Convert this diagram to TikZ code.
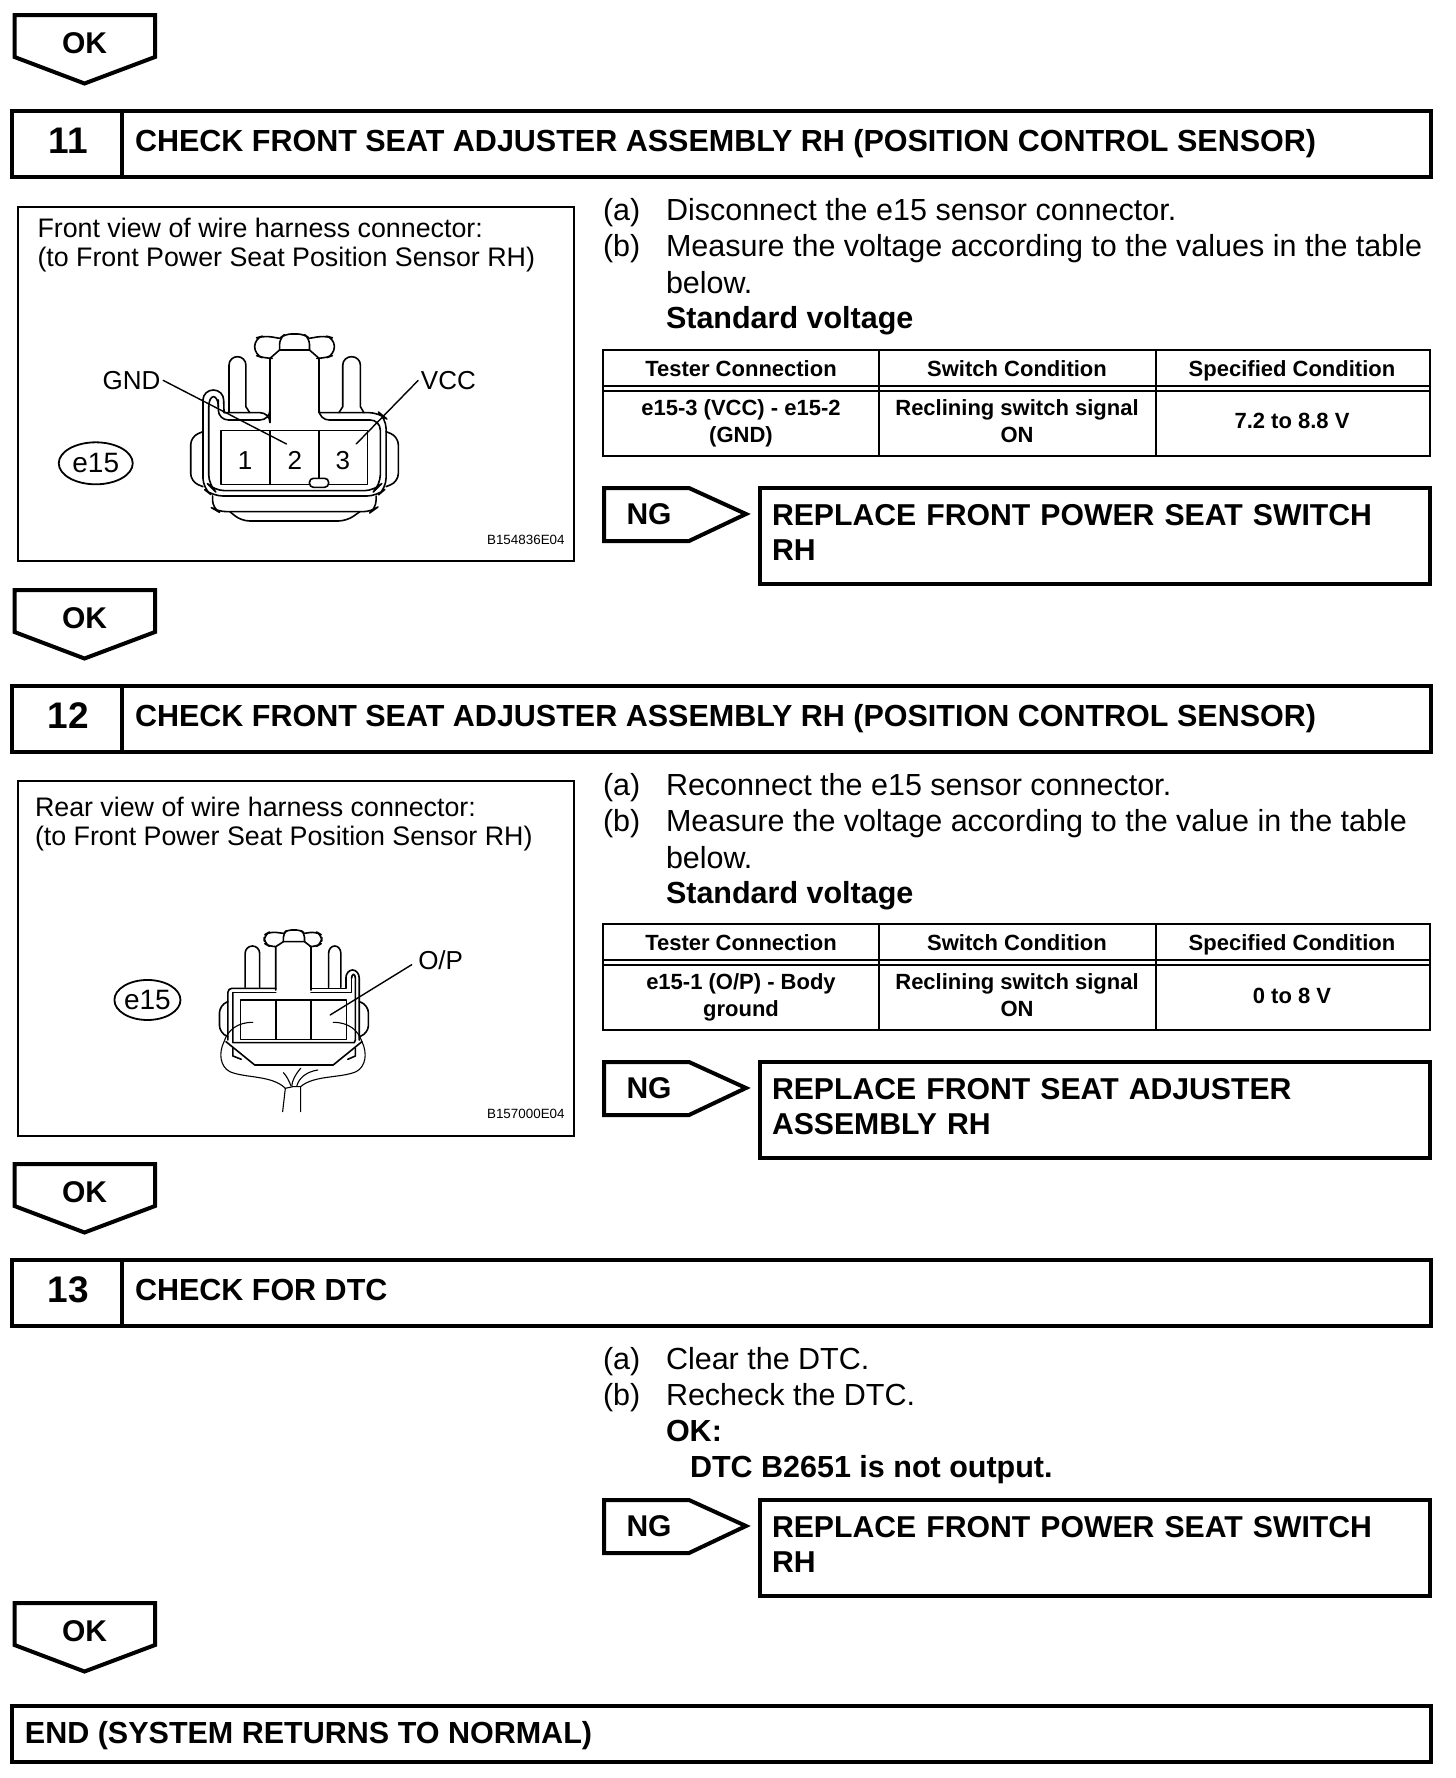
\documentclass[tikz,border=0pt]{standalone}
\usepackage{fontspec}
\setmainfont{Liberation Sans}
\usetikzlibrary{shapes.geometric}
\newcommand{\pxfont}[1]{\fontsize{#1}{#1}\selectfont}
\tikzset{
  x=0.5pt,y=-0.5pt,
  thick box/.style={draw=black,line width=2pt,line join=miter},
  thin box/.style={draw=black,line width=1pt},
  part/.style={draw=black,line width=0.8pt,line join=round,line cap=round},
  fine/.style={draw=black,line width=0.55pt,line join=round,line cap=round},
  txt/.style={anchor=base west,inner sep=0pt,outer sep=0pt,align=left},
  body/.style={txt,font=\pxfont{15.25pt}},
  bodyb/.style={txt,font=\pxfont{15.25pt}\bfseries},
  head/.style={txt,font=\pxfont{15.25pt}\bfseries},
  result/.style={txt,font=\pxfont{15.1pt}\bfseries},
  num/.style={anchor=base,inner sep=0pt,font=\pxfont{18.5pt}\bfseries},
  flag/.style={anchor=base,inner sep=0pt,font=\pxfont{15pt}\bfseries},
  cell/.style={anchor=base,inner sep=0pt,font=\pxfont{11pt}\bfseries},
  fig/.style={txt,font=\pxfont{13.4pt}},
  code/.style={anchor=base east,inner sep=0pt,font=\pxfont{6.7pt}},
  pin/.style={anchor=base,inner sep=0pt,font=\pxfont{13pt}},
  oval/.style={draw=black,line width=0.9pt,ellipse,inner sep=0pt,font=\pxfont{14pt}},
}
% OK flag: #1 name, #2 y offset
\newcommand{\okflag}[2]{%
  \draw[thick box] (14.5,#2+15) -- (155,#2+15) -- (155,#2+57) -- (84.5,#2+83.5) -- (14.5,#2+57) -- cycle;
  \node[flag] (#1) at (84.5,#2+53) {OK};}
% header: #1 name, #2 y offset, #3 number, #4 text
\newcommand{\headbar}[4]{%
  \draw[thick box] (12,#2+110.5) rectangle (1431,#2+176.5);
  \draw[thick box] (122,#2+110.5) -- (122,#2+176.5);
  \node[num] (#1n) at (68.5,#2+153) {#3};
  \node[head] (#1t) at (135,#2+151) {#4};}
% NG flag + result: #1 name, #2 y offset, #3 text
\newcommand{\ngflag}[3]{%
  \draw[thick box] (604,#2+488) -- (689,#2+488) -- (746,#2+514) -- (689,#2+541) -- (604,#2+541) -- cycle;
  \node[flag] (#1f) at (649,#2+524) {NG};
  \draw[thick box] (760,#2+488) rectangle (1430,#2+583.5);
  \node[result,text width=650pt/2] (#1r) at (772,#2+525) {#3};}
% table: #1 y offset, #2 bottom
\newcommand{\tablegrid}[2]{%
  \draw[thin box] (603,#1+349.5) rectangle (1430,#2);
  \draw[thin box] (603,#1+386) -- (1430,#1+386);
  \draw[thin box] (603,#1+391) -- (1430,#1+391);
  \draw[thin box] (879,#1+349.5) -- (879,#2);
  \draw[thin box] (1156,#1+349.5) -- (1156,#2);
  \node[cell] at (741,#1+376.5) {Tester Connection};
  \node[cell] at (1017,#1+376.5) {Switch Condition};
  \node[cell] at (1292,#1+376.5) {Specified Condition};}
\begin{document}
\begin{tikzpicture}
\useasboundingbox (0,0) rectangle (1456,1778);
\fill[white] (0,0) rectangle (1456,1778);

\okflag{ok1}{0}
\okflag{ok2}{575}
\okflag{ok3}{1149}
\okflag{ok4}{1588}

\headbar{h11}{0}{11}{CHECK FRONT SEAT ADJUSTER ASSEMBLY RH (POSITION CONTROL SENSOR)}
\headbar{h12}{575}{12}{CHECK FRONT SEAT ADJUSTER ASSEMBLY RH (POSITION CONTROL SENSOR)}
\headbar{h13}{1149}{13}{CHECK FOR DTC}

\draw[thick box] (12,1706) rectangle (1431,1762);
\node[head] (endt) at (25,1743.5) {END (SYSTEM RETURNS TO NORMAL)};

% figure boxes
\draw[thin box] (18,207) rectangle (574,561);
\node[fig] (f1a) at (37.5,237) {Front view of wire harness connector:};
\node[fig] (f1b) at (37.5,266.5) {(to Front Power Seat Position Sensor RH)};
\node[code] (c1) at (565,544) {B154836E04};

\draw[thin box] (18,781) rectangle (574,1136);
\node[fig] (f2a) at (35,816) {Rear view of wire harness connector:};
\node[fig] (f2b) at (35,845.5) {(to Front Power Seat Position Sensor RH)};
\node[code] (c2) at (565,1118) {B157000E04};

% connector 1
\begin{scope}[shift={(0,190)},xscale=.383,yscale=.3333]
  \draw[part,rounded corners=4pt] (730,445) -- (690,437) -- (665,445) -- (665,495) -- (690,505) -- (705,505);
  \draw[part,rounded corners=4pt] (808,445) -- (848,437) -- (873,445) -- (873,495) -- (848,505) -- (833,505);
  \draw[part,rounded corners=3pt] (730,480) -- (730,445) -- (745,432) -- (793,432) -- (808,445) -- (808,480);
  \draw[part] (705,668) -- (705,505) -- (730,480) -- (808,480) -- (833,505) -- (833,668);
  \draw[part] (598,668) -- (598,525) arc[start angle=180,end angle=360,x radius=22,y radius=25] -- (642,650) -- (652,668);
  \draw[part] (885,668) -- (895,650) -- (895,525) arc[start angle=180,end angle=360,x radius=23,y radius=25] -- (941,650) -- (950,668);
  % shell
  \draw[part,rounded corners=5pt] (585,668) -- (705,668) -- (705,690) -- (570,690) -- (570,630);
  \draw[part,rounded corners=5pt] (833,668) -- (990,668) -- (1008,685) -- (1008,895) -- (985,918) -- (555,918) -- (530,895) -- (530,630);
  \draw[part] (530,630) arc[start angle=180,end angle=360,x radius=27,y radius=30] -- (585,668);
  \draw[part] (545,650) arc[start angle=180,end angle=360,x radius=12.5,y radius=30] -- (570,650);
  \draw[part,rounded corners=5pt] (545,650) -- (545,885) -- (560,902) -- (978,902) -- (993,885) -- (993,690) -- (833,690) -- (833,668);
  % cells
  \draw[part] (577,722) rectangle (960,884);
  \draw[fine] (705,722) -- (705,884);
  \draw[fine] (833,722) -- (833,865);
  \draw[part,fill=white,rounded corners=2pt] (808,865) rectangle (858,892);
  % side lugs
  \draw[part,rounded corners=4pt] (530,725) -- (498,740) -- (498,875) -- (530,890);
  \draw[part,rounded corners=4pt] (1008,725) -- (1040,740) -- (1040,875) -- (1008,890);
  % lower
  \draw[part,rounded corners=4pt] (555,918) -- (555,955) -- (570,965) -- (970,965) -- (982,955) -- (982,918);
  \draw[part,rounded corners=4pt] (600,965) -- (630,993) -- (905,993) -- (940,965);
  \coordinate (gt) at (748,762);
  \coordinate (vt) at (930,762);
  \node[pin] (p1) at (640,840) {1};
  \node[pin] (p2) at (770,840) {2};
  \node[pin] (p3) at (895,840) {3};
  \node[pin,anchor=base east] (gnd) at (420,598) {GND};
  \node[pin,anchor=base west] (vcc) at (1098,598) {VCC};
  \node[oval,minimum width=37pt,minimum height=21pt] (e1) at (250,820) {e15};
  \draw[fine,line width=.7pt] (gnd.east) ++(3pt,0) -- (gt);
  \draw[fine,line width=.7pt] (vcc.west) ++(-3pt,0) -- (vt);
\end{scope}

% connector 2
\begin{scope}[shift={(0,770)},xscale=.383,yscale=.3333]
  \draw[part,rounded corners=3pt] (740,490) -- (705,485) -- (690,495) -- (690,520) -- (705,530) -- (720,530);
  \draw[part,rounded corners=3pt] (795,490) -- (825,485) -- (840,495) -- (840,520) -- (825,530) -- (812,530);
  \draw[part,rounded corners=2pt] (740,515) -- (740,490) -- (750,480) -- (785,480) -- (795,490) -- (795,515);
  \draw[part] (720,660) -- (720,530) -- (740,515) -- (795,515) -- (812,530) -- (812,660);
  \draw[part] (640,652) -- (640,550) arc[start angle=180,end angle=360,x radius=19,y radius=22] -- (678,652);
  \draw[part] (858,652) -- (858,550) arc[start angle=180,end angle=360,x radius=16,y radius=22] -- (890,652);
  % shell
  \draw[part,rounded corners=2pt] (720,655) -- (595,655) -- (595,810);
  \draw[part] (812,655) -- (903,655) -- (903,625);
  \draw[part] (903,625) arc[start angle=180,end angle=360,x radius=17.5,y radius=25] -- (938,810);
  \draw[part] (918,625) arc[start angle=180,end angle=360,x radius=5,y radius=12] -- (928,810);
  \draw[part] (608,668) -- (720,668);
  \draw[part] (812,668) -- (918,668) -- (918,625);
  \draw[part] (608,668) -- (608,818) -- (925,818) -- (928,810);
  % cells
  \draw[part] (628,690) rectangle (905,808);
  \draw[part] (720,690) -- (720,808);
  \draw[part] (812,690) -- (812,808);
  % lugs
  \draw[part,rounded corners=4pt] (595,695) -- (573,705) -- (573,790) -- (595,800);
  \draw[part,rounded corners=4pt] (938,695) -- (962,705) -- (962,790) -- (938,800);
  % lower
  \draw[part] (590,815) -- (665,885) -- (870,885) -- (945,815);
  \draw[part] (608,835) -- (608,858) -- (630,868);
  \draw[part] (928,835) -- (928,858) -- (908,868);
  % wires
  \draw[fine] (660,757) .. controls (620,757) and (595,780) .. (585,815) .. controls (570,850) and (575,890) .. (600,905) .. controls (640,925) and (710,915) .. (745,955) -- (738,1025);
  \draw[fine] (870,757) .. controls (910,757) and (935,780) .. (945,815) .. controls (960,850) and (955,890) .. (930,905) .. controls (890,925) and (820,915) .. (785,950) -- (785,1025);
  \draw[fine] (745,955) -- (765,950) -- (785,950);
  \draw[fine] (740,908) .. controls (750,920) and (755,935) .. (760,948);
  \draw[fine] (785,895) .. controls (770,915) and (762,935) .. (762,948);
  \draw[fine] (830,900) .. controls (800,905) and (780,925) .. (775,948);
  \coordinate (ot) at (862,735);
  \node[pin,anchor=base west] (op) at (1091,600) {O/P};
  \node[oval,minimum width=32pt,minimum height=20pt] (e2) at (385,690) {e15};
  \draw[fine,line width=.7pt] (op.west) ++(-8pt,-6pt) -- (ot);
\end{scope}

% step 11 text
\node[body] (a11l) at (603,220) {(a)};
\node[body] (a11) at (666,220) {Disconnect the e15 sensor connector.};
\node[body] (b11l) at (603,256) {(b)};
\node[body] (b11) at (666,256) {Measure the voltage according to the values in the table};
\node[body] (b11c) at (666,293) {below.};
\node[bodyb] (s11) at (666,328.5) {Standard voltage};
\tablegrid{0}{456}
\node[cell] (t11a) at (741,415) {e15-3 (VCC) - e15-2};
\node[cell] (t11b) at (741,442.5) {(GND)};
\node[cell] (t11c) at (1017,415) {Reclining switch signal};
\node[cell] (t11d) at (1017,442.5) {ON};
\node[cell] (t11e) at (1292,428.5) {7.2 to 8.8 V};
\ngflag{n11}{0}{REPLACE FRONT POWER SEAT SWITCH\\[2.6pt]RH}

% step 12 text
\node[body] (a12l) at (603,795) {(a)};
\node[body] (a12) at (666,795) {Reconnect the e15 sensor connector.};
\node[body] (b12l) at (603,831) {(b)};
\node[body] (b12) at (666,831) {Measure the voltage according to the value in the table};
\node[body] (b12c) at (666,868) {below.};
\node[bodyb] (s12) at (666,903) {Standard voltage};
\tablegrid{574}{1030}
\node[cell] (t12a) at (741,989) {e15-1 (O/P) - Body};
\node[cell] (t12b) at (741,1016.5) {ground};
\node[cell] (t12c) at (1017,989) {Reclining switch signal};
\node[cell] (t12d) at (1017,1016.5) {ON};
\node[cell] (t12e) at (1292,1003) {0 to 8 V};
\ngflag{n12}{574}{REPLACE FRONT SEAT ADJUSTER\\[2.6pt]ASSEMBLY RH}

% step 13 text
\node[body] (a13l) at (603,1369) {(a)};
\node[body] (a13) at (666,1369) {Clear the DTC.};
\node[body] (b13l) at (603,1405) {(b)};
\node[body] (b13) at (666,1405) {Recheck the DTC.};
\node[bodyb] (o13) at (666,1441) {OK:};
\node[bodyb] (d13) at (690,1477) {DTC B2651 is not output.};
\ngflag{n13}{1012}{REPLACE FRONT POWER SEAT SWITCH\\[2.6pt]RH}
\end{tikzpicture}
\end{document}
